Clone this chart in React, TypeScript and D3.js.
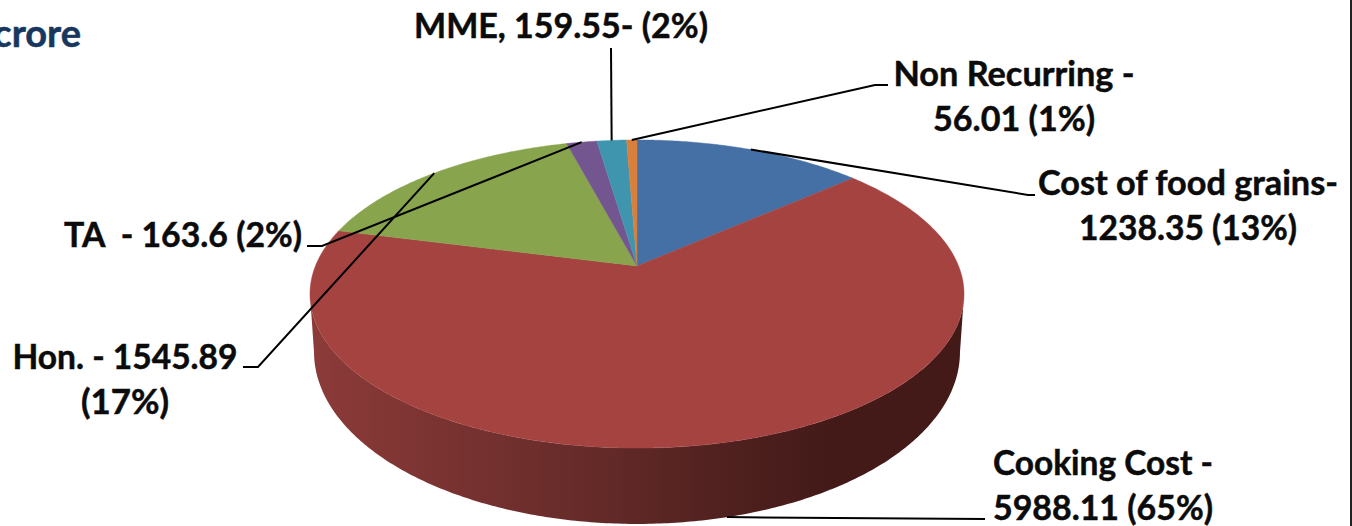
import React from "react";
import * as d3 from "d3";

// ---- data ----
const categories = ["Cost of food grains", "Cooking Cost", "Hon.", "TA", "MME", "Non Recurring"];
const values = [1238.35, 5988.11, 1545.89, 163.6, 159.55, 56.01];
const colors = ["#4570a5", "#a54341", "#88a44d", "#735590", "#3f95ae", "#d87f3c"];
const labelLines = [
  ["Cost of food grains-", "1238.35 (13%)"],
  ["Cooking Cost -", "5988.11 (65%)"],
  ["Hon. - 1545.89", "(17%)"],
  ["TA\u00a0 - 163.6 (2%)"],
  ["MME, 159.55- (2%)"],
  ["Non Recurring -", "56.01 (1%)"],
];
// layout of labels: centre x, first baseline y, and the leader's elbow points
const labelLayout = [
  { x: 1188, y: 195, w: [300, 218], elbow: [[1028, 195], [1035, 195]] },
  { x: 1103, y: 475, w: [220, 220], elbow: [[985, 519]] },
  { x: 125, y: 369, w: [225, 88], elbow: [[258, 367], [243, 367]] },
  { x: 183, y: 247, w: [238], elbow: [[322, 246], [307, 246]] },
  { x: 561, y: 38, w: [294], elbow: [[611, 48]] },
  { x: 1014, y: 86, w: [241, 162], elbow: [[875, 85], [888, 85]] },
];

const W = 1352, H = 526, FS = 35;

// a perspective projection of the pie's circle
const CX = 637;
const top = { A: 321.6, B: 149, C: 266, k: 0.1818 };
const bottom = { A: 317.7, B: 166.4, C: 321, k: 0.18 };
type P = typeof top;
const project = (p: P, a: number): [number, number] => {
  const u = Math.sin(a), v = Math.cos(a), w = 1 + p.k * v;
  return [CX + (p.A * u) / w, p.C - (p.B * v) / w];
};
const arcPoints = (p: P, a0: number, a1: number) => {
  const n = Math.max(2, Math.ceil(Math.abs(a1 - a0) / 0.01));
  return d3.range(n + 1).map((i) => project(p, a0 + ((a1 - a0) * i) / n));
};

const line = d3.line();
const arcs = d3.pie<number>().sort(null).startAngle(0).endAngle(2 * Math.PI)(values);

const sideA0 = Math.acos(-top.k);
const sideA1 = 2 * Math.PI - sideA0;
const sidePts = [...arcPoints(top, sideA0, sideA1), ...arcPoints(bottom, sideA1, sideA0)];

const sideStops: [number, string][] = [
  [0, "#8c3b39"], [0.2, "#7a3331"], [0.45, "#632a28"], [0.65, "#4e201e"], [0.8, "#431a18"], [1, "#431a18"],
];

export default function App() {
  return (
    <svg width={W} height={H} viewBox={`0 0 ${W} ${H}`} style={{ position: "absolute", left: 0, top: 0, display: "block", background: "#fff" }}>
      <defs>
        <linearGradient id="side" gradientUnits="userSpaceOnUse" x1={310} x2={965} y1={0} y2={0}>
          {sideStops.map(([o, c]) => <stop key={o} offset={o} stopColor={c} />)}
        </linearGradient>
      </defs>
      <path d={line(sidePts as [number, number][])! + "Z"} fill="url(#side)" />
      {arcs.map((d, i) => (
        <path key={categories[i]} fill={colors[i]} stroke={colors[i]} strokeWidth={0.4}
          d={line([[CX, top.C], ...arcPoints(top, d.startAngle, d.endAngle)] as [number, number][])! + "Z"} />
      ))}
      {arcs.map((d, i) => {
        const mid = (d.startAngle + d.endAngle) / 2;
        const anchor = project(i === 1 ? bottom : top, mid);
        return <path key={i} d={line([anchor, ...labelLayout[i].elbow] as [number, number][])!} fill="none" stroke="#000" strokeWidth={2} />;
      })}
      <g fontFamily="Lato, 'Open Sans', sans-serif" fontWeight={700} fontSize={FS} fill="#0b0b0b" stroke="#0b0b0b" strokeWidth={0.5} textAnchor="middle">
        {labelLines.map((ls, i) => ls.map((t, j) => (
          <text key={t} x={labelLayout[i].x} y={labelLayout[i].y + j * 45} textLength={labelLayout[i].w[j]} lengthAdjust="spacingAndGlyphs">{t}</text>
        )))}
      </g>
      <text x={81} y={47} textAnchor="end" fontFamily="Lato, 'Open Sans', sans-serif" fontWeight={700} fontSize={38} fill="#17375e" stroke="#17375e" strokeWidth={0.5}>crore</text>
      <line x1={1351} x2={1351} y1={0} y2={H} stroke="#222" strokeWidth={2} />
    </svg>
  );
}
